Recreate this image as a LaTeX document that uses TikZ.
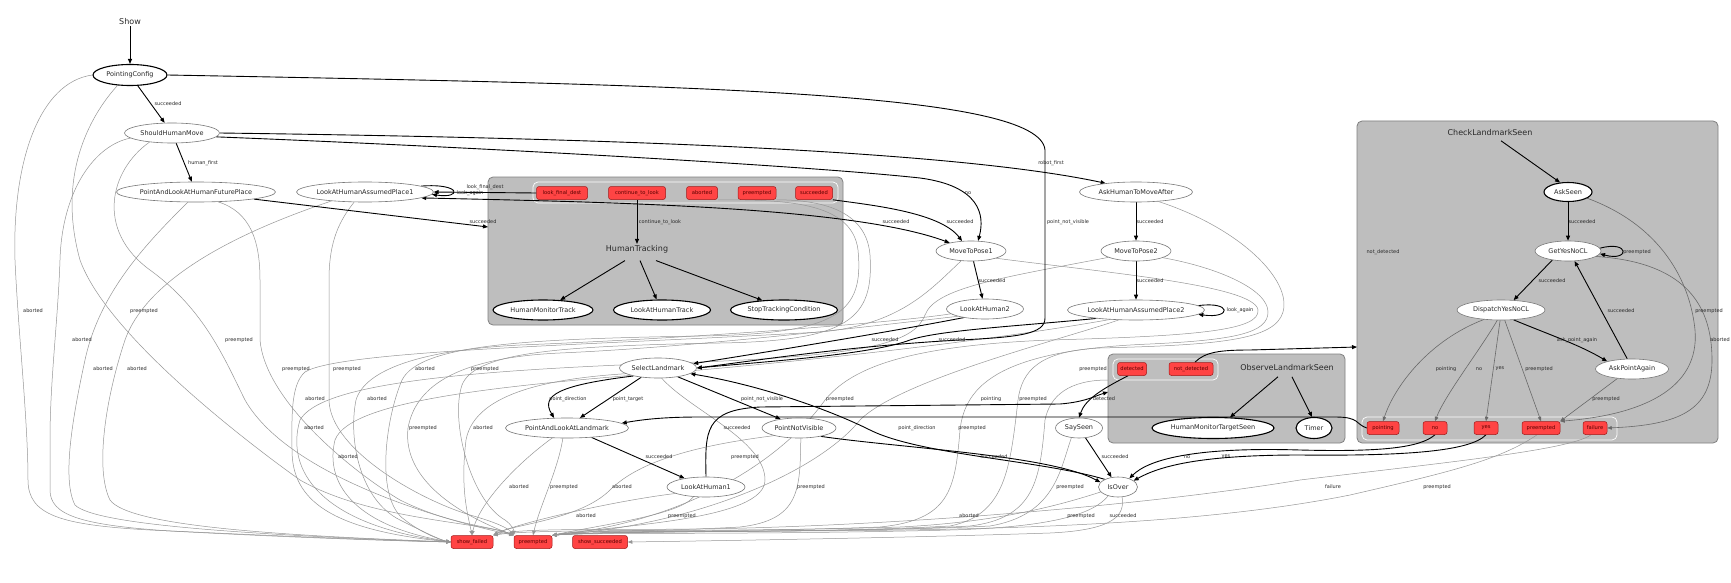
\documentclass[tikz,border=0pt]{standalone}
\usepackage{fontspec}
\setmainfont{DejaVu Sans}
\usetikzlibrary{shapes.geometric,arrows.meta}
\definecolor{cfill}{RGB}{190,190,190}
\definecolor{cborder}{RGB}{128,128,128}
\definecolor{ofill}{RGB}{255,68,68}
\definecolor{oborder}{RGB}{160,25,25}
\definecolor{otext}{RGB}{90,0,0}
\definecolor{gline}{RGB}{150,150,150}
\definecolor{dline}{RGB}{105,105,105}
\definecolor{nborder}{RGB}{120,120,120}
\definecolor{tcol}{RGB}{40,40,40}
\pgfdeclarelayer{bg}
\pgfdeclarelayer{edges}
\pgfsetlayers{bg,edges,main}
\tikzset{
stn/.style={ellipse, draw=nborder, line width=0.6pt, fill=white, inner sep=0pt, font=\fontsize{6.5}{7}\selectfont, text=tcol},
act/.style={draw=black, line width=1.1pt},
obox/.style={rectangle, rounded corners=2.5pt, draw=oborder, fill=ofill, line width=0.5pt, minimum height=13pt, inner sep=0pt, font=\fontsize{5.2}{6}\selectfont, text=otext},
cbox/.style={rectangle, rounded corners=5pt, draw=cborder, fill=cfill, line width=0.8pt, inner sep=0pt},
ostrip/.style={rectangle, rounded corners=5pt, draw=white, line width=0.7pt, inner sep=0pt},
ttl/.style={font=\fontsize{8}{9}\selectfont, text=tcol, inner sep=1pt},
elab/.style={font=\fontsize{5}{6}\selectfont, text=tcol, inner sep=0pt},
bedge/.style={draw=black, line width=0.9pt, -{Triangle[length=5pt,width=4pt]}},
gedge/.style={draw=gline, line width=0.5pt, -{Triangle[length=4.5pt,width=3.5pt]}},
dedge/.style={draw=dline, line width=0.6pt, -{Triangle[length=4.5pt,width=3.5pt]}},
}
\begin{document}
\begin{tikzpicture}[x=1pt,y=-1pt]
\useasboundingbox (0,0) rectangle (1731,583);
\begin{pgfonlayer}{bg}
\fill[white] (0,0) rectangle (1731,583);
\node[cbox, minimum width=355pt, minimum height=148pt] (HTc) at (665.5,251) {};
\node[cbox, minimum width=237pt, minimum height=89pt] (OLSc) at (1226.5,398.5) {};
\node[cbox, minimum width=361pt, minimum height=322pt] (CLSc) at (1537.5,282) {};
\node[ostrip, minimum width=305pt, minimum height=21pt] (HTs) at (685.5,192.5) {};
\node[ostrip, minimum width=105pt, minimum height=21pt] (OLSs) at (1165.5,369.5) {};
\node[ostrip, minimum width=255pt, minimum height=23pt] (CLSs) at (1489.5,428.5) {};
\end{pgfonlayer}
\coordinate (HTin) at (488,227);
\coordinate (OLSin) at (1108,392);
\coordinate (OLSout) at (1108,380);
\coordinate (CLSin) at (1357,347);
% top-level states
\node[ttl] (show) at (130,22) {Show};
\node[stn, act, minimum width=74pt, minimum height=21pt] (PC) at (130,75) {PointingConfig};
\node[stn, minimum width=95pt, minimum height=20pt] (SHM) at (172,133) {ShouldHumanMove};
\node[stn, minimum width=159pt, minimum height=20pt] (PALHFP) at (196,192) {PointAndLookAtHumanFuturePlace};
\node[stn, minimum width=136pt, minimum height=20pt] (LAHAP1) at (365,192) {LookAtHumanAssumedPlace1};
\node[stn, minimum width=70pt, minimum height=20pt] (MTP1) at (971,251) {MoveToPose1};
\node[stn, minimum width=77pt, minimum height=20pt] (LAH2) at (985,309) {LookAtHuman2};
\node[stn, minimum width=113pt, minimum height=20pt] (AHTMA) at (1136,192) {AskHumanToMoveAfter};
\node[stn, minimum width=70pt, minimum height=20pt] (MTP2) at (1136,251) {MoveToPose2};
\node[stn, minimum width=137pt, minimum height=20pt] (LAHAP2) at (1136,310) {LookAtHumanAssumedPlace2};
\node[stn, minimum width=77pt, minimum height=20pt] (SL) at (658,368) {SelectLandmark};
\node[stn, minimum width=123pt, minimum height=20pt] (PALL) at (567,428) {PointAndLookAtLandmark};
\node[stn, minimum width=74pt, minimum height=20pt] (PNV) at (799,428) {PointNotVisible};
\node[stn, minimum width=78pt, minimum height=20pt] (LAH1) at (706,487) {LookAtHuman1};
\node[stn, minimum width=47pt, minimum height=20pt] (SS) at (1079,428) {SaySeen};
\node[stn, minimum width=39pt, minimum height=20pt] (IO) at (1118,487) {IsOver};
% final outcomes
\node[obox, minimum width=42pt] (SF) at (472,542) {show\_failed};
\node[obox, minimum width=38pt] (PR) at (533,542) {preempted};
\node[obox, minimum width=55pt] (SSU) at (600,542) {show\_succeeded};
% HumanTracking
\node[obox, minimum width=51pt] (HTlfd) at (562,193) {look\_final\_dest};
\node[obox, minimum width=57pt] (HTctl) at (637,193) {continue\_to\_look};
\node[obox, minimum width=31pt] (HTab) at (702,193) {aborted};
\node[obox, minimum width=38pt] (HTpr) at (757,193) {preempted};
\node[obox, minimum width=37pt] (HTsu) at (814,193) {succeeded};
\node[ttl] (HTl) at (637,249) {HumanTracking};
\node[stn, act, minimum width=100pt, minimum height=20pt] (HMT) at (543,310) {HumanMonitorTrack};
\node[stn, act, minimum width=97pt, minimum height=20pt] (LAHT) at (662,310) {LookAtHumanTrack};
\node[stn, act, minimum width=107pt, minimum height=20pt] (STC) at (784,310) {StopTrackingCondition};
% ObserveLandmarkSeen
\node[obox, minimum width=29pt] (OLSdet) at (1132,369) {detected};
\node[obox, minimum width=44pt] (OLSnd) at (1191,369) {not\_detected};
\node[ttl] (OLSl) at (1287,368) {ObserveLandmarkSeen};
\node[stn, act, minimum width=122pt, minimum height=21pt] (HMTS) at (1213,428) {HumanMonitorTargetSeen};
\node[stn, act, minimum width=36pt, minimum height=21pt] (Timer) at (1314,428) {Timer};
% CheckLandmarkSeen
\node[ttl] (CLSl) at (1490,133) {CheckLandmarkSeen};
\node[stn, act, minimum width=48pt, minimum height=19pt] (AskSeen) at (1568,192) {AskSeen};
\node[stn, minimum width=66pt, minimum height=20pt] (GYN) at (1568,251) {GetYesNoCL};
\node[stn, minimum width=88pt, minimum height=20pt] (DYN) at (1501,310) {DispatchYesNoCL};
\node[stn, minimum width=73pt, minimum height=20pt] (APA) at (1632,369) {AskPointAgain};
\node[obox, minimum width=32pt] (CLSpt) at (1383,428) {pointing};
\node[obox, minimum width=24pt] (CLSno) at (1435,428) {no};
\node[obox, minimum width=24pt] (CLSyes) at (1486,428) {yes};
\node[obox, minimum width=38pt] (CLSpr) at (1541,428) {preempted};
\node[obox, minimum width=24pt] (CLSfail) at (1595,428) {failure};

\begin{pgfonlayer}{edges}
% gray outcome edges
\draw[gedge] (PC.west) .. controls (40,82) and (12,160) .. (15,260) .. controls (18,330) and (28,420) .. (28,480) .. controls (28,515) and (60,525) .. (150,530) .. controls (300,537) and (400,541) .. (SF.west);
\draw[gedge] (PC.-140) .. controls (95,110) and (55,170) .. (80,260) .. controls (105,330) and (230,430) .. (300,480) .. controls (370,520) and (480,522) .. (PR.north west);
\draw[gedge] (SHM.-173) .. controls (95,145) and (62,190) .. (60,260) .. controls (58,320) and (50,380) .. (50,440) -- (50,490) .. controls (50,515) and (80,525) .. (170,531) .. controls (300,538) and (400,541) .. (SF.west);
\draw[gedge] (SHM.-158) .. controls (110,170) and (95,230) .. (150,270) .. controls (205,310) and (225,360) .. (245,400) .. controls (285,470) and (420,515) .. (PR.north west);
\draw[gedge] (PALHFP.-129) .. controls (150,240) and (100,290) .. (85,360) .. controls (72,420) and (62,480) .. (75,505) .. controls (95,525) and (250,535) .. (SF.west);
\draw[gedge] (PALHFP.-24) .. controls (250,212) and (260,240) .. (260,280) -- (260,340) .. controls (265,400) and (350,470) .. (400,500) .. controls (450,525) and (495,527) .. (PR.north west);
\draw[gedge] (LAHAP1.-165) .. controls (260,225) and (150,270) .. (125,340) .. controls (105,400) and (95,470) .. (110,500) .. controls (130,528) and (300,536) .. (SF.west);
\draw[gedge] (LAHAP1.-137) .. controls (340,220) and (329,240) .. (329,280) -- (329,400) .. controls (330,450) and (420,500) .. (470,515) .. controls (495,522) and (508,528) .. (PR.north west);
\draw[gedge] (HTab.south east) .. controls (780,200) and (852,200) .. (858,250) .. controls (864,312) and (840,334) .. (700,336) .. controls (520,339) and (420,345) .. (402,380) .. controls (385,420) and (375,500) .. (405,520) .. controls (420,532) and (440,540) .. (SF.west);
\draw[gedge] (HTpr.south east) .. controls (810,200) and (866,205) .. (870,255) .. controls (874,318) and (850,341) .. (720,343) .. controls (560,346) and (475,352) .. (462,385) .. controls (450,420) and (470,500) .. (505,520) .. controls (512,525) and (514,530) .. (PR.north west);
\draw[gedge] (MTP1.-135) .. controls (930,290) and (900,325) .. (820,332) .. controls (600,345) and (340,350) .. (305,372) .. controls (290,385) and (292,420) .. (292,450) .. controls (292,500) and (330,530) .. (SF.west);
\draw[gedge] (MTP1.-16) .. controls (1100,272) and (1255,285) .. (1258,310) .. controls (1260,330) and (1200,336) .. (1050,340) .. controls (900,346) and (850,370) .. (825,400) .. controls (790,450) and (700,520) .. (PR.north east);
\draw[gedge] (LAH2.-172) .. controls (900,322) and (700,338) .. (520,345) .. controls (420,350) and (365,370) .. (356,400) .. controls (348,440) and (360,500) .. (400,520) .. controls (420,530) and (440,540) .. (SF.west);
\draw[gedge] (LAH2.-165) .. controls (890,324) and (700,347) .. (560,353) .. controls (450,358) and (415,390) .. (408,428) .. controls (402,480) and (460,515) .. (PR.north west);
\draw[gedge] (AHTMA.-23) .. controls (1240,228) and (1292,280) .. (1283,312) .. controls (1275,340) and (1220,345) .. (1100,348) .. controls (1040,351) and (1022,370) .. (1018,400) .. controls (1010,470) and (1005,515) .. (950,526) .. controls (800,534) and (620,530) .. (PR.north east);
\draw[gedge] (MTP2.-167) .. controls (1000,278) and (935,288) .. (925,315) .. controls (915,340) and (880,355) .. (700,362) .. controls (450,370) and (320,385) .. (300,420) .. controls (285,470) and (320,525) .. (SF.west);
\draw[gedge] (MTP2.-14) .. controls (1220,268) and (1268,290) .. (1268,312) .. controls (1268,333) and (1235,340) .. (1150,344) .. controls (1000,350) and (965,385) .. (960,430) .. controls (955,490) and (950,520) .. (880,527) .. controls (750,532) and (620,530) .. (PR.north east);
\draw[gedge] (LAHAP2.-160) .. controls (1040,332) and (900,352) .. (700,370) .. controls (500,385) and (350,400) .. (335,440) .. controls (325,480) and (350,525) .. (SF.west);
\draw[gedge] (LAHAP2.-150) .. controls (1060,340) and (900,380) .. (860,420) .. controls (820,470) and (700,525) .. (PR.north east);
\draw[gedge] (SL.-170) .. controls (560,378) and (475,390) .. (466,440) .. controls (460,490) and (468,515) .. (SF.north);
\draw[gedge] (SL.-70) .. controls (690,410) and (765,440) .. (765,480) .. controls (765,520) and (620,525) .. (PR.north east);
\draw[gedge] (PALL.-146) .. controls (515,465) and (478,505) .. (SF.north);
\draw[gedge] (PALL.-112) .. controls (558,470) and (540,505) .. (PR.north);
\draw[gedge] (LAH1.-168) .. controls (620,500) and (520,522) .. (SF.north east);
\draw[gedge] (LAH1.-142) .. controls (680,515) and (600,525) .. (PR.north east);
\draw[gedge] (PNV.-163) .. controls (700,445) and (640,460) .. (610,490) .. controls (580,520) and (510,525) .. (SF.north east);
\draw[gedge] (PNV.-80) .. controls (800,490) and (800,520) .. (740,527) .. controls (650,532) and (580,530) .. (PR.north east);
\draw[gedge] (SS.-128) .. controls (1060,470) and (1055,515) .. (990,526) .. controls (850,533) and (620,530) .. (PR.north east);
\draw[gedge] (OLSout) .. controls (1070,380) and (1050,395) .. (1045,420) .. controls (1040,480) and (1035,518) .. (970,526) .. controls (850,533) and (620,530) .. (PR.north east);
\draw[gedge] (IO.-164) .. controls (1060,505) and (1000,522) .. (900,527) .. controls (700,533) and (540,528) .. (SF.north east);
\draw[gedge] (IO.-138) .. controls (1095,512) and (1060,527) .. (950,530) .. controls (750,535) and (600,532) .. (PR.north east);
\draw[gedge] (IO.-68) .. controls (1125,515) and (1115,530) .. (1050,533) .. controls (900,538) and (700,541) .. (SSU.east);
\draw[gedge] (CLSpr.-120) .. controls (1500,460) and (1450,472) .. (1350,495) .. controls (1200,525) and (1000,530) .. (800,531) .. controls (650,532) and (580,530) .. (PR.north east);
\draw[gedge] (CLSfail.-120) .. controls (1570,450) and (1450,462) .. (1300,480) .. controls (1150,505) and (900,526) .. (700,529) .. controls (600,530) and (520,528) .. (SF.north east);
% inside CheckLandmarkSeen (gray)
\draw[dedge] (AskSeen.-18) .. controls (1660,225) and (1690,280) .. (1695,330) .. controls (1700,390) and (1640,415) .. (CLSpr.north east);
\draw[dedge] (GYN.-11) .. controls (1680,262) and (1712,300) .. (1712,360) .. controls (1712,410) and (1680,425) .. (CLSfail.east);
\draw[dedge] (DYN.-151) .. controls (1430,340) and (1395,385) .. (CLSpt.north);
\draw[dedge] (DYN.-110) .. controls (1480,350) and (1445,395) .. (CLSno.north);
\draw[dedge] (DYN.-95) -- (CLSyes.north);
\draw[dedge] (DYN.-70) -- (CLSpr.north);
\draw[dedge] (APA.-147) -- (CLSpr.north east);
% black transitions
\draw[bedge] (show) -- (PC);
\draw[bedge] (PC) -- (SHM);
\draw[bedge] (PC.east) .. controls (700,85) and (1040,92) .. (1045,150) -- (1045,318) .. controls (1045,334) and (1020,337) .. (960,340) .. controls (850,346) and (760,360) .. (SL.east);
\draw[bedge] (SHM) -- (PALHFP);
\draw[bedge] (SHM.east) .. controls (600,138) and (950,150) .. (AHTMA.164);
\draw[bedge] (SHM.-5) .. controls (450,146) and (800,165) .. (920,178) .. controls (980,186) and (985,215) .. (MTP1.55);
\draw[bedge] (PALHFP.-7) -- (HTin);
\draw[bedge] (HTctl.south) -- (HTl.north);
\draw[bedge] (HTlfd.west) -- (LAHAP1.east);
\draw[bedge] (LAHAP1.6) .. controls (462,183) and (462,199) .. (LAHAP1.-2);
\draw[bedge, {Triangle[length=5pt,width=4pt]}-{Triangle[length=5pt,width=4pt]}] (LAHAP1.-6) .. controls (600,202) and (850,206) .. (MTP1.159);
\draw[bedge] (HTsu.south east) .. controls (870,205) and (940,212) .. (MTP1.132);
\draw[bedge] ([xshift=-12pt,yshift=-6.5pt]HTl.south) -- (HMT.30);
\draw[bedge] ([xshift=3pt,yshift=-6.5pt]HTl.south) -- (LAHT.117);
\draw[bedge] ([xshift=19pt,yshift=-6.5pt]HTl.south) -- (STC.156);
\draw[bedge] (MTP1) -- (LAH2);
\draw[bedge] (LAH2.-158) .. controls (900,330) and (780,350) .. (SL.7);
\draw[bedge] (AHTMA) -- (MTP2);
\draw[bedge] (MTP2) -- (LAHAP2);
\draw[bedge] (LAHAP2.4) .. controls (1232,301) and (1232,319) .. (LAHAP2.-4);
\draw[bedge] (LAHAP2.-168) .. controls (1020,326) and (940,330) .. (910,340) .. controls (870,355) and (760,362) .. (SL.east);
\draw[bedge] (SL.-162) .. controls (560,385) and (540,395) .. (PALL.142);
\draw[bedge] (SL.-151) -- (PALL.38);
\draw[bedge] (SL.-24) -- (PNV.154);
\draw[bedge] (PALL.-21) -- (LAH1.158);
\draw[bedge] (LAH1.north) .. controls (705,430) and (705,410) .. (760,407) -- (1060,404) .. controls (1085,402) and (1095,396) .. (OLSin);
\draw[bedge] (PNV.-21) .. controls (900,448) and (1050,455) .. (IO.165);
\draw[bedge] (IO.150) .. controls (1040,460) and (920,455) .. (870,430) .. controls (830,410) and (760,385) .. (SL.-10);
\draw[bedge] (OLSdet.-120) .. controls (1100,390) and (1085,400) .. (SS.north);
\draw[bedge] (OLSnd.60) .. controls (1205,352) and (1220,350) .. (1250,350) -- (CLSin);
\draw[bedge] ([xshift=-9pt,yshift=-4.5pt]OLSl.south) -- (HMTS.32);
\draw[bedge] ([xshift=5pt,yshift=-4.5pt]OLSl.south) -- (Timer.100);
\draw[bedge] (SS) -- (IO);
\draw[bedge] (CLSpt.west) .. controls (1355,424) and (1360,417) .. (1335,417) -- (700,417) .. controls (660,417) and (640,420) .. (PALL.5);
\draw[bedge] (CLSno.south) .. controls (1420,448) and (1380,452) .. (1300,450) .. controls (1200,447) and (1150,458) .. (IO.37);
\draw[bedge] (CLSyes.south) .. controls (1470,452) and (1400,456) .. (1300,455) .. controls (1200,455) and (1160,466) .. (IO.22);
\draw[bedge] ([xshift=11pt,yshift=-3.5pt]CLSl.south) -- (AskSeen.130);
\draw[bedge] (AskSeen) -- (GYN);
\draw[bedge] (GYN.5) .. controls (1630,240) and (1630,262) .. (GYN.-5);
\draw[bedge] (GYN.-150) -- (DYN.38);
\draw[bedge] (DYN.-38) .. controls (1550,335) and (1580,345) .. (APA.163);
\draw[bedge] (APA.115) -- (GYN.-57);
\end{pgfonlayer}

% black labels
\node[elab] (a1) at (168,104) {succeeded};
\node[elab] (a2) at (203,163) {human\_first};
\node[elab] (a3) at (1051,163) {robot\_first};
\node[elab] (a4) at (968,193) {no};
\node[elab] (a5) at (1068,222) {point\_not\_visible};
\node[elab] (a6) at (896,222) {succeeded};
\node[elab] (a7) at (960,222) {succeeded};
\node[elab] (a8) at (483,222) {succeeded};
\node[elab] (a9) at (660,222) {continue\_to\_look};
\node[elab] (a10) at (485,187) {look\_final\_dest};
\node[elab] (a11) at (470,193) {look\_again};
\node[elab] (a12) at (992,281) {succeeded};
\node[elab] (a13) at (1150,222) {succeeded};
\node[elab] (a14) at (1150,281) {succeeded};
\node[elab] (a15) at (1240,310) {look\_again};
\node[elab] (a16) at (885,340) {succeeded};
\node[elab] (a17) at (952,340) {succeeded};
\node[elab] (a18) at (568,399) {point\_direction};
\node[elab] (a19) at (628,399) {point\_target};
\node[elab] (a20) at (762,399) {point\_not\_visible};
\node[elab] (a21) at (659,457) {succeeded};
\node[elab] (a22) at (737,428) {succeeded};
\node[elab] (a23) at (994,457) {succeeded};
\node[elab] (a24) at (917,428) {point\_direction};
\node[elab] (a25) at (1104,399) {detected};
\node[elab] (a26) at (1115,457) {succeeded};
\node[elab] (a27) at (991,399) {pointing};
\node[elab] (a28) at (1187,457) {no};
\node[elab] (a29) at (1226,457) {yes};
\node[elab] (a30) at (1383,252) {not\_detected};
\node[elab] (a31) at (1582,222) {succeeded};
\node[elab] (a32) at (1637,252) {preempted};
\node[elab] (a33) at (1552,281) {succeeded};
\node[elab] (a34) at (1621,311) {succeeded};
\node[elab] (a35) at (1577,340) {ask\_point\_again};
\node[elab] (a36) at (1709,311) {preempted};
\node[elab, anchor=east] (a37) at (1730,340) {aborted};
\node[elab] (a38) at (1446,369) {pointing};
\node[elab] (a39) at (1479,369) {no};
\node[elab] (a40) at (1500,369) {yes};
\node[elab] (a41) at (1539,369) {preempted};
\node[elab] (a42) at (1606,399) {preempted};
% gray labels
\node[elab] (g1) at (33,311) {aborted};
\node[elab] (g2) at (144,311) {preempted};
\node[elab] (g3) at (82,340) {aborted};
\node[elab] (g4) at (239,340) {preempted};
\node[elab] (g5) at (103,369) {aborted};
\node[elab] (g6) at (137,369) {aborted};
\node[elab] (g7) at (296,369) {preempted};
\node[elab] (g8) at (347,369) {preempted};
\node[elab] (g9) at (425,369) {aborted};
\node[elab] (g10) at (485,369) {preempted};
\node[elab] (g11) at (315,399) {aborted};
\node[elab] (g12) at (377,399) {aborted};
\node[elab] (g13) at (314,428) {aborted};
\node[elab] (g14) at (423,428) {preempted};
\node[elab] (g15) at (483,428) {aborted};
\node[elab] (g16) at (348,457) {aborted};
\node[elab] (g17) at (840,399) {preempted};
\node[elab] (g18) at (1033,399) {preempted};
\node[elab] (g19) at (972,428) {preempted};
\node[elab] (g20) at (745,457) {preempted};
\node[elab] (g21) at (519,487) {aborted};
\node[elab] (g22) at (564,487) {preempted};
\node[elab] (g23) at (622,487) {aborted};
\node[elab] (g24) at (811,487) {preempted};
\node[elab] (g25) at (1070,487) {preempted};
\node[elab] (g26) at (586,516) {aborted};
\node[elab] (g27) at (682,516) {preempted};
\node[elab] (g28) at (969,516) {aborted};
\node[elab] (g29) at (1081,516) {preempted};
\node[elab] (g30) at (1123,516) {succeeded};
\node[elab] (g31) at (1093,369) {preempted};
\node[elab] (g32) at (1333,487) {failure};
\node[elab] (g33) at (1437,487) {preempted};
\end{tikzpicture}
\end{document}
